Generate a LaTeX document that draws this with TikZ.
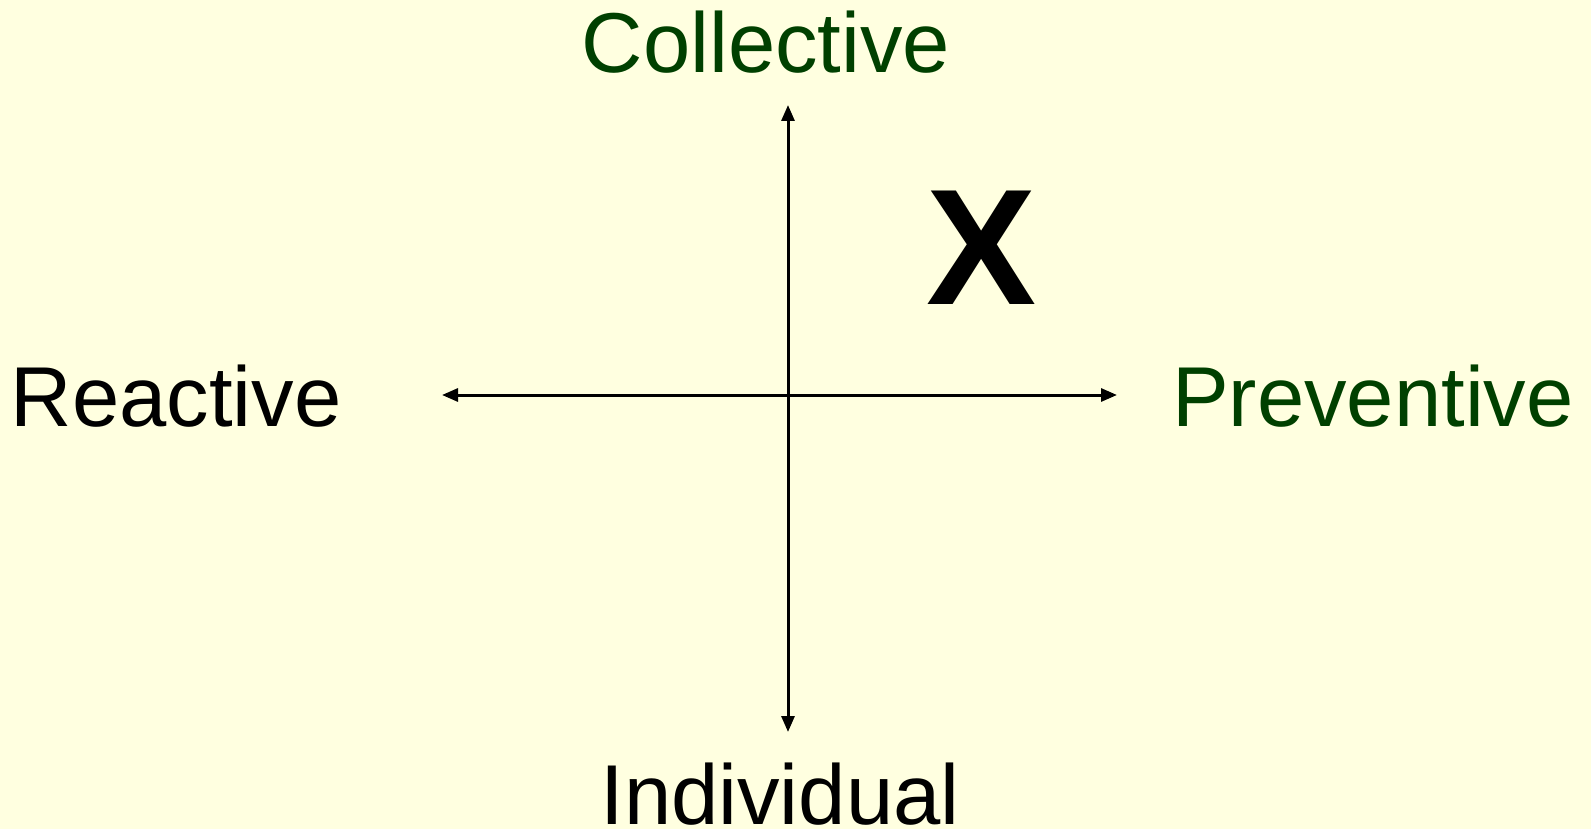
\documentclass[tikz,border=0pt]{standalone}
\usepackage{fontspec}
\setmainfont{Liberation Sans}
\usetikzlibrary{arrows.meta}
\definecolor{bgyellow}{RGB}{255,255,224}
\definecolor{darkgreen}{RGB}{0,64,0}
\tikzset{
  lbl/.style={inner sep=0pt, anchor=base, font=\fontsize{85}{100}\selectfont},
  axis/.style={line width=3pt, {Triangle[length=16pt,width=13pt]}-{Triangle[length=16pt,width=13pt]}}
}
\begin{document}
\begin{tikzpicture}[x=1pt,y=-1pt]
\fill[bgyellow] (0,0) rectangle (1591,829);
\useasboundingbox (0,0) rectangle (1591,829);
\coordinate (top) at (788,105);
\coordinate (bottom) at (788,732);
\coordinate (left) at (442,395);
\coordinate (right) at (1117,395);
\draw[axis] (top) -- (bottom);
\draw[axis] (left) -- (right);
\node[lbl, text=darkgreen] (coll) at (766,73) {Collective};
\node[lbl] (indiv) at (780,824) {Individual};
\node[lbl] (react) at (176,426) {Reactive};
\node[lbl, text=darkgreen] (prev) at (1373,426) {Preventive};
\node[inner sep=0pt, anchor=base, font=\fontsize{165}{180}\selectfont\bfseries] (x) at (982,305) {X};
\end{tikzpicture}
\end{document}
